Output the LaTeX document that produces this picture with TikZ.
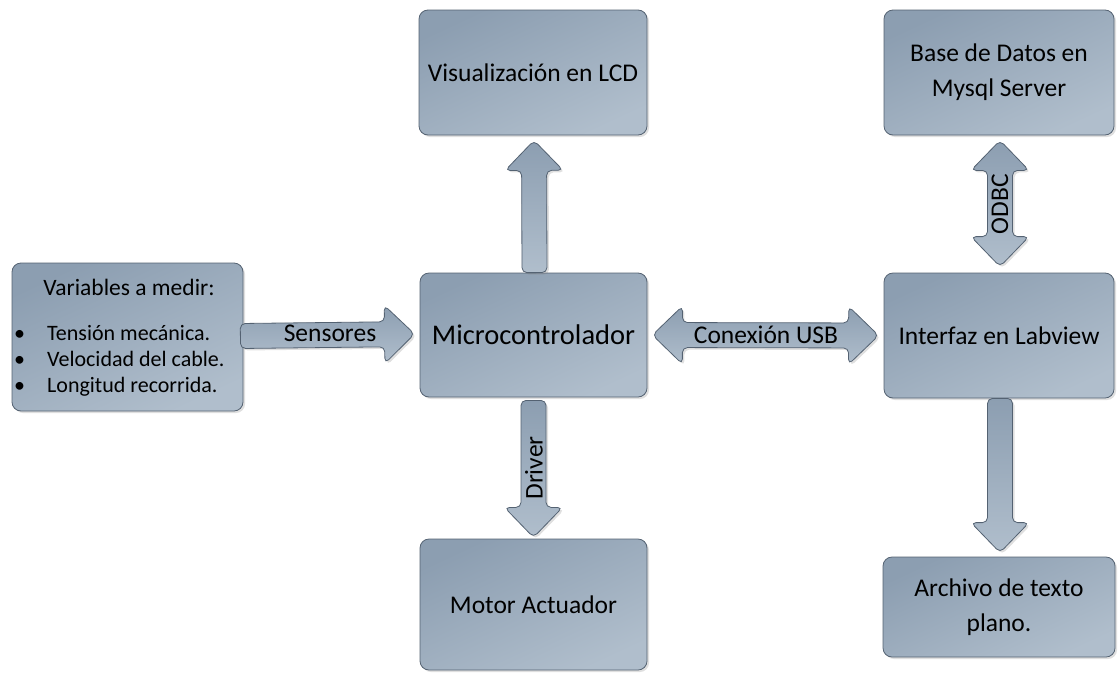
\documentclass[tikz,border=0pt]{standalone}
\usepackage{fontspec}
\setmainfont{Carlito}
\usetikzlibrary{calc,positioning,shadows}

\definecolor{boxdark}{RGB}{140,158,177}
\definecolor{boxlight}{RGB}{176,190,204}
\definecolor{boxline}{RGB}{84,98,114}

\tikzset{
	box/.style={draw=boxline, line width=0.8pt, rounded corners=9pt,
			top color=boxdark, bottom color=boxlight, shading angle=25,
			drop shadow={shadow xshift=2pt, shadow yshift=-2pt, opacity=0.25},
			align=center, inner sep=4pt, font=\fontsize{25.5}{35}\selectfont},
	shaftw/.store in=\shaftw, shaftw=12.5,
	headw/.store in=\headw, headw=29,
	headl/.store in=\headl, headl=30,
	fatarrow/.style={draw=boxline, line width=0.8pt, rounded corners=5pt,
			top color=boxdark, bottom color=boxlight,
			drop shadow={shadow xshift=2pt, shadow yshift=-2pt, opacity=0.25},
			to path={
					let \p1=(\tikztostart), \p2=(\tikztotarget),
					\n1={atan2(\y2-\y1,\x2-\x1)}, \n2={veclen(\x2-\x1,\y2-\y1)} in
					[shift={(\p1)}, rotate=\n1]
					(0,-\shaftw) -- (\n2-\headl,-\shaftw) -- (\n2-\headl,-\headw) -- (\n2,0)
					-- (\n2-\headl,\headw) -- (\n2-\headl,\shaftw) -- (0,\shaftw) -- cycle
				}},
	dblarrow/.style={fatarrow,
			to path={
					let \p1=(\tikztostart), \p2=(\tikztotarget),
					\n1={atan2(\y2-\y1,\x2-\x1)}, \n2={veclen(\x2-\x1,\y2-\y1)} in
					[shift={(\p1)}, rotate=\n1]
					(0,0) -- (\headl,-\headw) -- (\headl,-\shaftw) -- (\n2-\headl,-\shaftw)
					-- (\n2-\headl,-\headw) -- (\n2,0) -- (\n2-\headl,\headw)
					-- (\n2-\headl,\shaftw) -- (\headl,\shaftw) -- (\headl,\headw) -- cycle
				}},
	arrowtext/.style={inner sep=0pt, font=\fontsize{25.5}{28}\selectfont},
	listtext/.style={inner sep=0pt, align=left, font=\fontsize{22}{26}\selectfont}
}

\begin{document}
\begin{tikzpicture}[x=1pt, y=-1pt]
	\useasboundingbox (0,0) rectangle (1118,675);

	% bloques
	\node[box, minimum width=231pt, minimum height=148pt] (vars) at (127.5,337) {};
	\node[box, minimum width=227pt, minimum height=124pt, font=\fontsize{28.5}{32}\selectfont] (micro) at (533.5,335) {Microcontrolador};
	\node[box, minimum width=228pt, minimum height=125pt] (lcd) at (533,72.5) {Visualizaci\'on en LCD};
	\node[box, minimum width=227pt, minimum height=131pt] (motor) at (533.5,604.5) {Motor Actuador};
	\node[box, minimum width=230pt, minimum height=125pt] (base) at (999,72.5) {Base de Datos en\\Mysql Server};
	\node[box, minimum width=230pt, minimum height=125pt] (labview) at (999,335.5) {Interfaz en Labview};
	\node[box, minimum width=232pt, minimum height=100pt] (archivo) at (999,607) {Archivo de texto\\plano.};

	% contenido de variables
	\node[inner sep=0pt, font=\fontsize{23.5}{28}\selectfont] (vtitle) at (129,287) {Variables a medir:};
	\node[listtext, anchor=west] (vlist) at (14,361) {\makebox[33pt][l]{\textbullet}Tensi\'on mec\'anica.\\
		\makebox[33pt][l]{\textbullet}Velocidad del cable.\\
		\makebox[33pt][l]{\textbullet}Longitud recorrida.};

	% flechas
	\draw[fatarrow] ($(vars.east)+(-3,-1)$) to ($(micro.west)+(-5,-1)$);
	\draw[dblarrow] ($(micro.east)+(5,0)$) to ($(labview.west)+(-5,0)$);
	\draw[fatarrow] ($(micro.north)+(1,0)$) to ($(lcd.south)+(1,5)$);
	\draw[fatarrow] ($(micro.south)+(0,3)$) to ($(motor.south)+(0,-133)$);
	\draw[dblarrow] ($(base.south)+(1,5)$) to ($(labview.north)+(1,-6)$);
	\draw[fatarrow] ($(labview.south)+(1,0)$) to ($(archivo.north)+(1,-4)$);

	% etiquetas
	\node[arrowtext] (lsens) at (330,333) {Sensores};
	\node[arrowtext] (lusb) at (766,335) {Conexi\'on USB};
	\node[arrowtext, rotate=90] (ldriver) at (534,468) {Driver};
	\node[arrowtext, rotate=90] (lodbc) at (1000,204) {ODBC};
\end{tikzpicture}
\end{document}
